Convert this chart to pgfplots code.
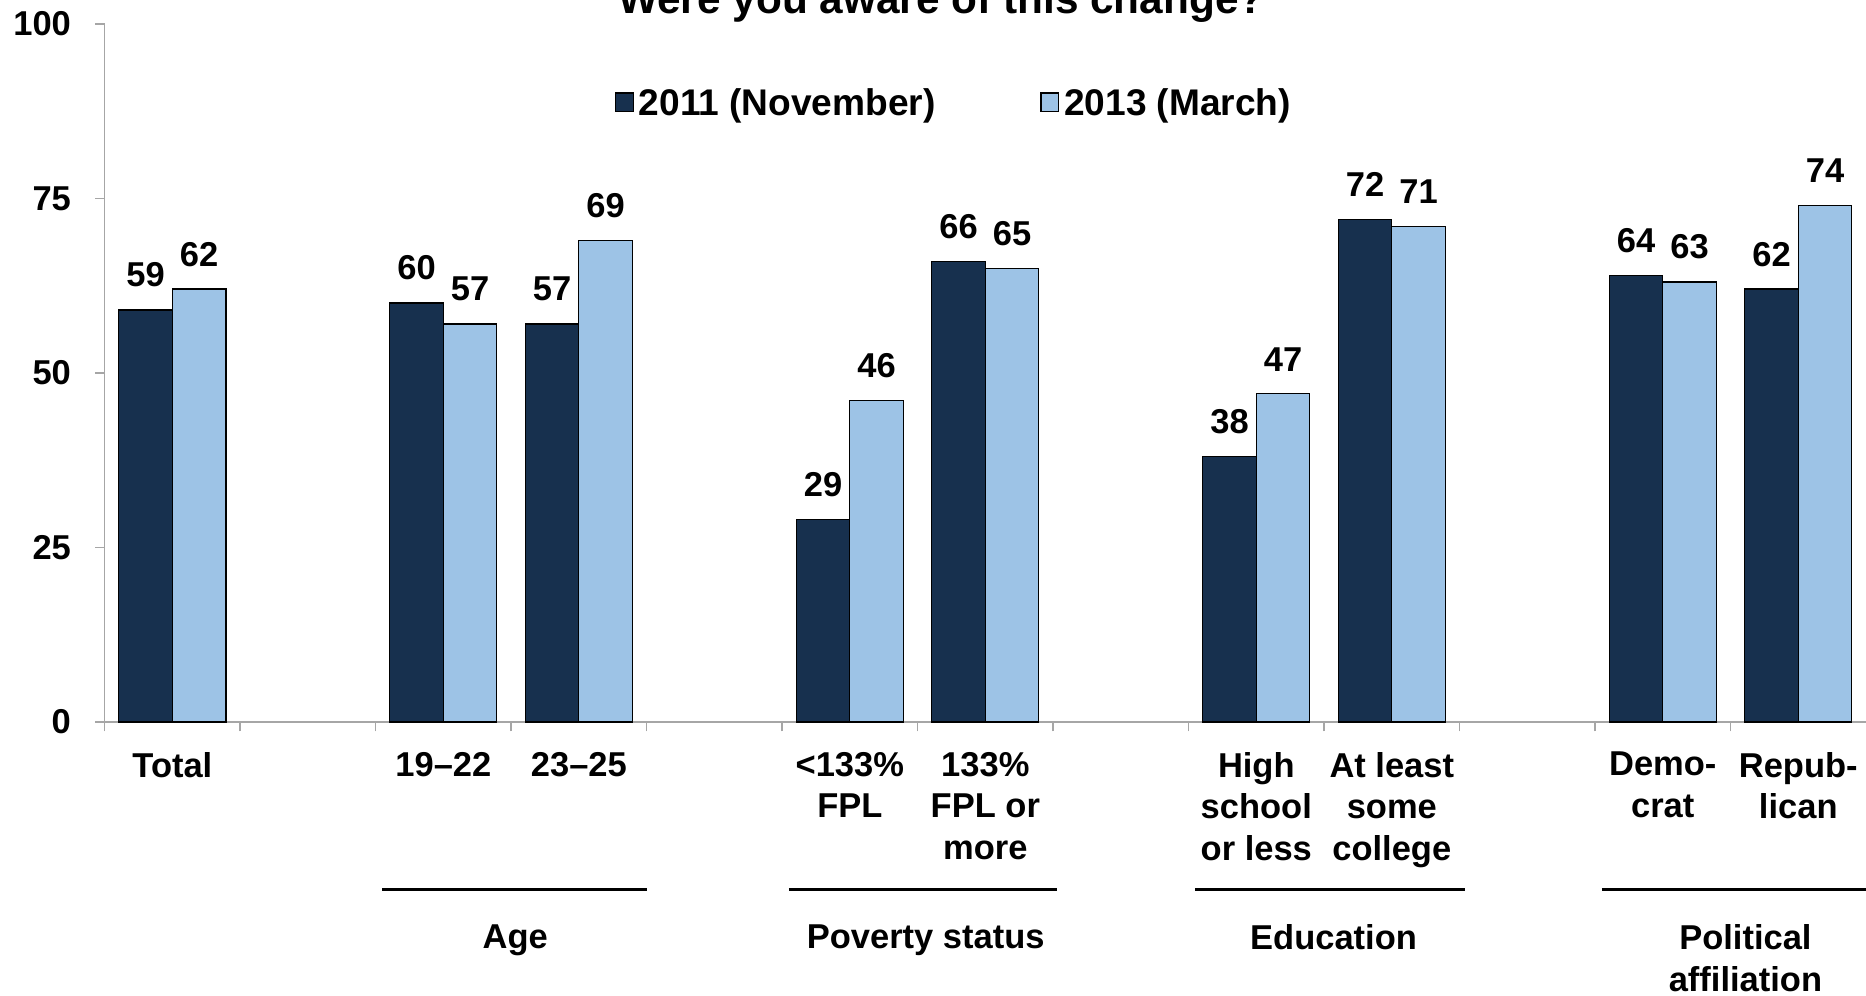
\documentclass[border=0pt]{standalone}
\usepackage{pgfplots}
\pgfplotsset{compat=1.18}
\usepackage{fontspec}
\setmainfont{Liberation Sans}
\definecolor{darkbar}{HTML}{17304E}
\definecolor{lightbar}{HTML}{9DC3E6}
\definecolor{axgray}{HTML}{A6A6A6}
\newcommand{\lbl}{\fontsize{14.5}{17.5}\selectfont\bfseries}
\begin{document}
\begin{tikzpicture}
\begin{axis}[name=ax, scale only axis, width=740.5pt, height=293.5pt,
  xmin=-0.5, xmax=12.5, ymin=0, ymax=100, clip=false,
  axis x line=bottom, axis y line=left,
  x axis line style={-, draw=axgray, line width=1.1pt},
  y axis line style={-, draw=axgray, line width=0.6pt},
  /pgf/number format/assume math mode=true,
  tick align=outside, major tick length=4pt,
  tick style={draw=axgray, line width=0.6pt},
  ytick={0,25,50,75,100},
  yticklabel style={font=\lbl, inner sep=0pt, xshift=-10pt},
  xtick={-0.5,0.5,...,11.5}, xticklabels={{},{},{},{},{},{},{},{},{},{},{},{},{}},
  extra x ticks={0,2,3,5,6,8,9,11,12},
  extra x tick labels={Total,19–22,23–25,{<133\%\\FPL},{133\%\\FPL or\\more},{High\\school\\or less},{At least\\some\\college},{Demo-\\crat},{Repub-\\lican}},
  extra x tick style={major tick length=0pt, xticklabel style={font=\lbl, align=center, anchor=north, inner sep=0pt, yshift=-12.5pt}},
  ybar=0pt, bar width=0.395,
  nodes near coords,
  every node near coord/.append style={font=\lbl, anchor=south, inner sep=0pt, yshift=9.3pt},
  legend columns=2,
  legend style={draw=none, fill=none, at={(0.483,0.886)}, anchor=center, font=\fontsize{15.6}{18}\selectfont\bfseries,
    /tikz/every even column/.append style={column sep=42pt}},
  legend image code/.code={\draw[#1] (0pt,-3.5pt) rectangle (7.5pt,4.4pt);},
]
\addplot[fill=darkbar, draw=black, line width=0.5pt] coordinates {(0,59) (2,60) (3,57) (5,29) (6,66) (8,38) (9,72) (11,64) (12,62)};
\addplot[fill=lightbar, draw=black, line width=0.5pt] coordinates {(0,62) (2,57) (3,69) (5,46) (6,65) (8,47) (9,71) (11,63) (12,74)};
\legend{2011 (November),2013 (March)}
\node[font=\fontsize{17.8}{20}\selectfont\bfseries, anchor=base] at ([yshift=4.5pt]rel axis cs:0.475,1) {Were you aware of this change?};
\draw[line width=1pt] ([yshift=-70.5pt]axis cs:1.55,0) -- ([yshift=-70.5pt]axis cs:3.5,0);
\draw[line width=1pt] ([yshift=-70.5pt]axis cs:4.55,0) -- ([yshift=-70.5pt]axis cs:6.53,0);
\draw[line width=1pt] ([yshift=-70.5pt]axis cs:7.55,0) -- ([yshift=-70.5pt]axis cs:9.54,0);
\draw[line width=1pt] ([yshift=-70.5pt]axis cs:10.55,0) -- ([yshift=-70.5pt]axis cs:12.6,0);
\node[font=\lbl, anchor=north, inner sep=0pt] at ([yshift=-85pt]axis cs:2.53,0) {Age};
\node[font=\lbl, anchor=north, inner sep=0pt] at ([yshift=-85pt]axis cs:5.56,0) {Poverty status};
\node[font=\lbl, anchor=north, inner sep=0pt] at ([yshift=-85pt]axis cs:8.57,0) {Education};
\node[font=\lbl, anchor=north, inner sep=0pt, align=center] at ([yshift=-85pt]axis cs:11.61,0) {Political\\affiliation};
\end{axis}
\pgfresetboundingbox
\path[use as bounding box] ([xshift=-44pt,yshift=10pt]ax.north west) rectangle ([yshift=-115pt]ax.south east);
\end{tikzpicture}
\end{document}
